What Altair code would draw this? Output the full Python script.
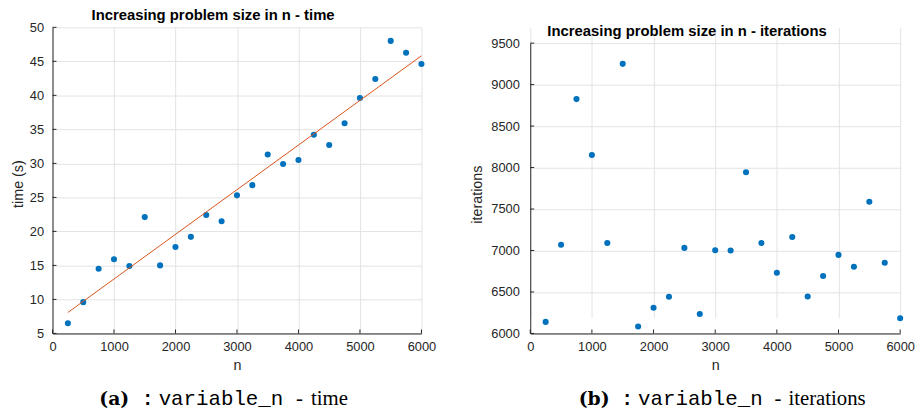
import altair as alt
import pandas as pd

# ---- data ----
n_values = [250, 500, 750, 1000, 1250, 1500, 1750, 2000, 2250, 2500, 2750, 3000,
            3250, 3500, 3750, 4000, 4250, 4500, 4750, 5000, 5250, 5500, 5750, 6000]
time_s = [6.5, 9.6, 14.5, 15.9, 14.9, 22.1, 15.0, 17.7, 19.2, 22.4, 21.5, 25.3,
          26.8, 31.3, 29.9, 30.5, 34.2, 32.7, 35.9, 39.6, 42.4, 48.0, 46.25, 44.6]
iterations = [6139, 7070, 8825, 8151, 7090, 9250, 6084, 6310, 6442, 7031, 6235, 7003,
              6999, 7944, 7090, 6732, 7162, 6446, 6692, 6947, 6804, 7588, 6852, 6183]

x_ticks = [0, 1000, 2000, 3000, 4000, 5000, 6000]
time_ticks = [5, 10, 15, 20, 25, 30, 35, 40, 45, 50]
iter_ticks = [6000, 6500, 7000, 7500, 8000, 8500, 9000, 9500]

title_a = "Increasing problem size in n - time"
title_b = "Increasing problem size in n - iterations"
cap_a = ["(a)", ":", "variable_n", "-", "time"]
cap_b = ["(b)", ":", "variable_n", "-", "iterations"]

BLUE = "#0072BD"
ORANGE = "#D95319"
AX = "#262626"
GRID = "#e3e3e3"
SANS = "Liberation Sans"

df = pd.DataFrame({"n": n_values, "time": time_s, "iterations": iterations})
one = pd.DataFrame({"k": [0]})

W1 = 373
W2 = 374
H = 309.5


def axis(values, title, pad, tx, ty, orient):
    kw = dict(values=values, grid=True, gridColor=GRID, gridWidth=1,
              domainColor=AX, domainWidth=1, ticks=False, tickSize=0,
              labelFont=SANS, labelFontSize=13, labelColor=AX, labelPadding=pad,
              labelFlush=False, labelOverlap=False, format="d",
              title=title, titleFont=SANS, titleFontSize=14.5, titleFontWeight="normal",
              titleColor=AX, titleX=tx, titleY=ty)
    if orient == "left":
        kw.update(titleBaseline="middle", titleAngle=270, titleAlign="center")
    else:
        kw.update(titleBaseline="alphabetic", titleAlign="center")
    return alt.Axis(**kw)


def text_piece(txt, x, y, font, size, weight="normal"):
    return alt.Chart(one).mark_text(
        text=txt, font=font, fontSize=size, fontWeight=weight, color="black",
        align="left", baseline="alphabetic"
    ).encode(x=alt.value(x), y=alt.value(y))


def caption(pieces, xs, y):
    fonts = [("DejaVu Serif", 19, "bold"), ("Liberation Mono", 20, "bold"),
             ("Liberation Mono", 21, "normal"), ("Liberation Serif", 21, "normal"),
             ("Liberation Serif", 21, "normal")]
    return [text_piece(p, x, y, f, s, w) for p, x, (f, s, w) in zip(pieces, xs, fonts)]


def panel(field, yticks, ydomain, yrange, ytitle, W, ylabpad, ytx, yty, title, title_x,
          title_y, cap, cap_xs, cap_y, marker, fit):
    xs = alt.Scale(domain=[0, 6000], nice=False, zero=False)
    ys = alt.Scale(domain=ydomain, range=yrange, nice=False, zero=False)
    xax = axis(x_ticks, "n", 7, W / 2, 36.3, "bottom")
    yax = axis(yticks, ytitle, ylabpad, ytx, yty, "left")
    base = alt.Chart(df)
    pts = base.mark_circle(size=38, color=BLUE, opacity=1).encode(
        x=alt.X("n:Q", scale=xs, axis=xax),
        y=alt.Y(f"{field}:Q", scale=ys, axis=yax),
    )
    layers = [pts]
    if fit:
        layers.append(base.transform_regression("n", field).mark_line(
            color=ORANGE, strokeWidth=1).encode(
            x=alt.X("n:Q", scale=xs, axis=xax),
            y=alt.Y(f"{field}:Q", scale=ys, axis=yax)))
    ytdf = pd.DataFrame({field: yticks})
    xtdf = pd.DataFrame({"n": x_ticks})
    layers.append(alt.Chart(ytdf).mark_rule(color=AX, strokeWidth=1).encode(
        y=alt.Y(f"{field}:Q", scale=ys, axis=yax), x=alt.value(0), x2=alt.value(4)))
    layers.append(alt.Chart(xtdf).mark_rule(color=AX, strokeWidth=1).encode(
        x=alt.X("n:Q", scale=xs, axis=xax), y=alt.value(H), y2=alt.value(H - 4)))
    layers.append(alt.Chart(one).mark_text(
        text=title, font=SANS, fontSize=15, fontWeight="bold", color="black",
        align="center", baseline="alphabetic").encode(x=alt.value(title_x), y=alt.value(title_y)))
    layers += caption(cap, cap_xs, cap_y)
    mx, my, mx2 = marker
    layers.append(alt.Chart(one).mark_rule(strokeWidth=0, strokeOpacity=0).encode(
        x=alt.value(mx), x2=alt.value(mx2), y=alt.value(my), y2=alt.value(my)))
    return alt.layer(*layers).properties(width=W, height=H)


TOP = 28.3
left = panel("time", time_ticks, [5, 50], [H, 0], "time (s)", W1, 9, 18 - 52.7, 158,
             title_a, 215 - 52.7, 20.7 - TOP, cap_a,
             [x - 52.7 for x in [100, 143, 160, 299, 314]],
             409.7 - TOP, (-44.7, 0, W1 + 24), True)
right = panel("iterations", iter_ticks, [6000, 9500], [H, 44.3 - TOP], "iterations", W2, 11,
              482 - 535, 197 - TOP, title_b, 693.5 - 535, 36.7 - TOP, cap_b,
              [x - 535 for x in [584, 627, 644, 782, 796]],
              409.7 - TOP, (-85.3, 0, -85.3), False)

chart = alt.hconcat(left, right, spacing=0,
                    padding={"top": -2.7, "left": 0, "right": 0, "bottom": 0}
                    ).configure_view(stroke=None)

chart.save("out.html", embed_options={"renderer": "svg", "actions": False})
